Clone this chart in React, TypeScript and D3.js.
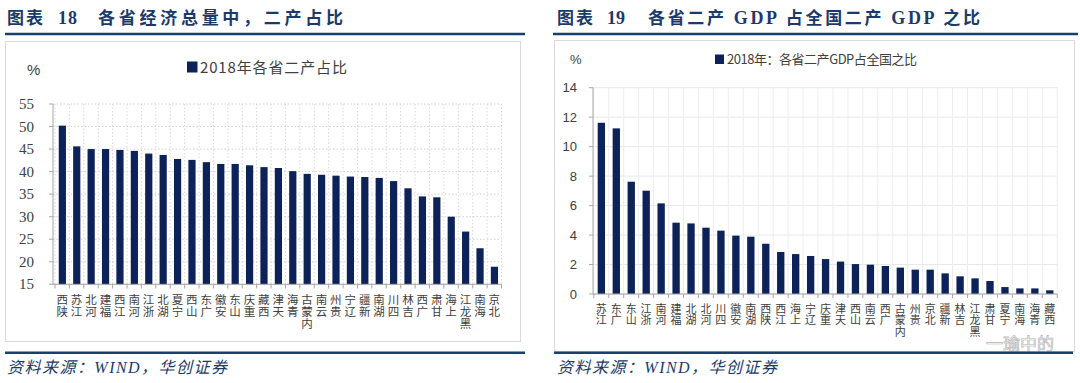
import React from "react";
import * as d3 from "d3";

const leftCategories = ["陕西","江苏","河北","福建","江西","河南","浙江","湖北","宁夏","山西","广东","安徽","山东","重庆","西藏","天津","青海","内蒙古","云南","贵州","辽宁","新疆","湖南","四川","吉林","广西","甘肃","上海","黑龙江","海南","北京"];
const leftValues = [50.2,45.6,45.0,45.0,44.8,44.6,44.0,43.7,42.8,42.6,42.1,41.7,41.7,41.4,41.0,40.8,40.1,39.5,39.3,39.1,38.9,38.8,38.6,37.9,36.3,34.5,34.3,30.0,26.7,23.0,18.9];
const leftTicks = [15,20,25,30,35,40,45,50,55];

const rightCategories = ["江苏","广东","山东","浙江","河南","福建","湖北","河北","四川","安徽","湖南","陕西","江西","上海","辽宁","重庆","天津","山西","云南","广西","内蒙古","贵州","北京","新疆","吉林","黑龙江","甘肃","宁夏","海南","青海","西藏"];
const rightValues = [11.62,11.24,7.62,7.01,6.15,4.84,4.79,4.5,4.3,3.96,3.89,3.41,2.85,2.71,2.58,2.37,2.2,2.03,1.99,1.9,1.79,1.65,1.65,1.4,1.2,1.06,0.88,0.47,0.38,0.38,0.25];
const rightTicks = [0,2,4,6,8,10,12,14];

const NAVY = "#0c2259";
const TITLE = "#1b3a6b";
const LINE = "#17406d";
const CJK = "'Noto Sans CJK SC', sans-serif";

function VLabel({ x, y0, step, text, size }: { x: number; y0: number; step: number; text: string; size: number }) {
  const chars = Array.from(text).reverse();
  return (
    <text fontSize={size} fontFamily={CJK} fill="#404040" textAnchor="middle" dominantBaseline="central">
      {chars.map((c, i) => (
        <tspan key={i} x={x} y={y0 + i * step}>{c}</tspan>
      ))}
    </text>
  );
}

export default function App() {
  // Left chart scales
  const xL = d3.scaleBand<string>().domain(leftCategories).range([55, 501.5]).padding(0);
  const yL = d3.scaleLinear().domain([15, 55]).range([284.3, 104]);
  const bwL = xL.bandwidth();
  // Right chart scales
  const xR = d3.scaleBand<string>().domain(rightCategories).range([593.8, 1057.2]).padding(0);
  const yR = d3.scaleLinear().domain([0, 14]).range([294, 87.7]);
  const bwR = xR.bandwidth();

  const leftEdges = leftCategories.map((c) => xL(c)!).concat([xL.range()[1]]);
  const rightEdges = rightCategories.map((c) => xR(c)!).concat([xR.range()[1]]);

  return (
    <svg width={1080} height={383} style={{ position: "absolute", left: 0, top: 0, background: "#fff" }}>
      <rect x={0} y={0} width={1080} height={383} fill="#fff" />
      {/* ===== Titles ===== */}
      <g fill={TITLE} fontWeight={700}>
        <text x={7} y={24} fontSize={17} fontFamily={CJK} textLength={36} lengthAdjust="spacing">图表</text>
        <text x={58} y={24} fontSize={18} fontFamily="'Liberation Serif', serif" textLength={19}>18</text>
        <text x={98} y={24} fontSize={17} fontFamily={CJK} textLength={245} lengthAdjust="spacing">各省经济总量中，二产占比</text>
        <text x={557} y={24} fontSize={17} fontFamily={CJK} textLength={36} lengthAdjust="spacing">图表</text>
        <text x={607} y={24} fontSize={18} fontFamily="'Liberation Serif', serif" textLength={18}>19</text>
        <text x={648} y={24} fontSize={17} fontFamily={CJK} textLength={332} lengthAdjust="spacing">
          各省二产<tspan fontFamily="'Liberation Serif', serif" fontSize={18}> GDP </tspan>占全国二产<tspan fontFamily="'Liberation Serif', serif" fontSize={18}> GDP </tspan>之比
        </text>
      </g>
      <line x1={5} x2={525} y1={34} y2={34} stroke={LINE} strokeWidth={2.5} />
      <line x1={553} x2={1078} y1={34} y2={34} stroke={LINE} strokeWidth={2.5} />

      {/* ===== Boxes ===== */}
      <rect x={5.5} y={41.5} width={515} height={300} fill="#fff" stroke="#d9d9d9" />
      <rect x={554.5} y={40.5} width={520} height={311} fill="#fff" stroke="#d9d9d9" />

      {/* ===== Left chart ===== */}
      <g>
        {leftTicks.map((t) => (
          <line key={t} x1={53} x2={501.5} y1={yL(t)} y2={yL(t)} stroke="#d0d0d0" strokeDasharray="1.5,2" />
        ))}
        {leftEdges.map((e, i) => (
          <line key={i} x1={e} x2={e} y1={104} y2={284.3} stroke="#d8d8d8" strokeDasharray="1.5,2" />
        ))}
        {leftCategories.map((c, i) => (
          <rect key={c} x={xL(c)! + bwL * 0.26} width={bwL * 0.5} y={yL(leftValues[i])} height={yL(15) - yL(leftValues[i])} fill={NAVY} />
        ))}
        <line x1={53} x2={53} y1={104} y2={284.3} stroke="#a6a6a6" />
        <line x1={53} x2={501.5} y1={284.3} y2={284.3} stroke="#a6a6a6" />
        {leftTicks.map((t) => (
          <line key={t} x1={49} x2={53} y1={yL(t)} y2={yL(t)} stroke="#a6a6a6" />
        ))}
        {leftEdges.map((e, i) => (
          <line key={i} x1={e} x2={e} y1={284.3} y2={288.5} stroke="#a6a6a6" />
        ))}
        {leftTicks.map((t) => (
          <text key={t} x={34} y={yL(t)} fontSize={15} fontFamily="'Liberation Serif', serif" fill="#404040" textAnchor="end" dominantBaseline="central">{t}</text>
        ))}
        {leftCategories.map((c) => (
          <VLabel key={c} x={xL(c)! + bwL / 2} y0={298.7} step={12} text={c} size={11.5} />
        ))}
        <text x={27} y={75} fontSize={15} fontFamily="'Liberation Sans', sans-serif" fill="#404040">%</text>
        <rect x={187} y={61.5} width={10.5} height={11} fill={NAVY} />
        <text x={200} y={72.5} fontSize={15} fontFamily={CJK} fill="#404040" textLength={147} lengthAdjust="spacing">2018年各省二产占比</text>
      </g>

      {/* ===== Right chart ===== */}
      <g>
        {rightTicks.map((t) => (
          <line key={t} x1={593} x2={1057.2} y1={yR(t)} y2={yR(t)} stroke="#e8e8e8" />
        ))}
        {rightEdges.map((e, i) => (
          <line key={i} x1={e} x2={e} y1={87.7} y2={294} stroke="#ededed" />
        ))}
        {rightCategories.map((c, i) => (
          <rect key={c} x={xR(c)! + bwR * 0.26} width={bwR * 0.49} y={yR(rightValues[i])} height={yR(0) - yR(rightValues[i])} fill={NAVY} />
        ))}
        <line x1={593} x2={593} y1={87.7} y2={294} stroke="#a6a6a6" />
        <line x1={593} x2={1057.2} y1={294} y2={294} stroke="#a6a6a6" />
        {rightTicks.map((t) => (
          <line key={t} x1={589} x2={593} y1={yR(t)} y2={yR(t)} stroke="#a6a6a6" />
        ))}
        {rightEdges.map((e, i) => (
          <line key={i} x1={e} x2={e} y1={294} y2={298} stroke="#a6a6a6" />
        ))}
        {rightTicks.map((t) => (
          <text key={t} x={577} y={yR(t)} fontSize={13} fontFamily="'Liberation Sans', sans-serif" fill="#404040" textAnchor="end" dominantBaseline="central">{t}</text>
        ))}
        {rightCategories.map((c) => (
          <VLabel key={c} x={xR(c)! + bwR / 2} y0={307.5} step={11.8} text={c} size={11} />
        ))}
        <text x={570} y={64} fontSize={13} fontFamily="'Liberation Sans', sans-serif" fill="#404040">%</text>
        <rect x={715} y={54.5} width={9} height={9.5} fill={NAVY} />
        <text x={727} y={64} fontSize={13} fontFamily={CJK} fill="#404040" textLength={190} lengthAdjust="spacing">2018年：各省二产GDP占全国之比</text>
      </g>

      {/* watermark */}
      <text x={986} y={350} fontSize={17} fontFamily={CJK} fill="none" stroke="#b5b5b5" strokeWidth={0.7}>一瑜中的</text>

      {/* ===== Bottom lines and sources ===== */}
      <line x1={5} x2={525} y1={352.7} y2={352.7} stroke={LINE} strokeWidth={2.5} />
      <line x1={554} x2={1073} y1={352.7} y2={352.7} stroke={LINE} strokeWidth={2.5} />
      <g fill={TITLE} fontStyle="italic">
        <text x={7} y={373} fontSize={16} textLength={220} lengthAdjust="spacing" fontFamily={CJK}>资料来源：<tspan fontFamily="'Liberation Serif', serif">WIND</tspan>，华创证券</text>
        <text x={557} y={373} fontSize={16} textLength={220} lengthAdjust="spacing" fontFamily={CJK}>资料来源：<tspan fontFamily="'Liberation Serif', serif">WIND</tspan>，华创证券</text>
      </g>
    </svg>
  );
}
